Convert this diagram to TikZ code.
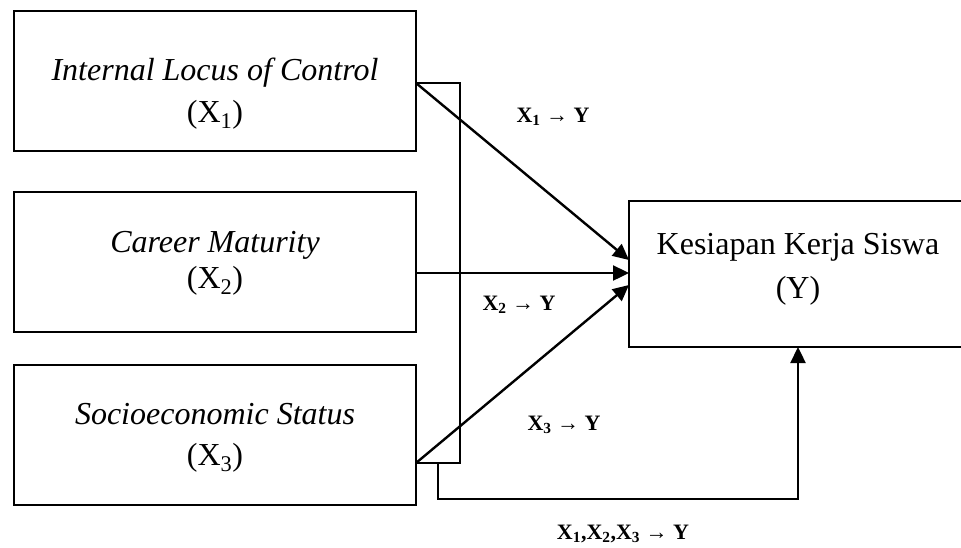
\documentclass[tikz,border=0pt]{standalone}
\usepackage{fontspec}
\setmainfont{Liberation Serif}
\usetikzlibrary{arrows.meta}
\begin{document}
\begin{tikzpicture}[x=1pt,y=-1pt,
  box/.style={draw, line width=2.4pt, inner sep=0pt, outer sep=0pt},
  txt/.style={anchor=base, inner sep=0pt, font=\fontsize{32}{38}\selectfont},
  lbl/.style={anchor=base, inner sep=0pt, font=\fontsize{22}{26}\selectfont\bfseries},
  conn/.style={line width=2.4pt},
  arr/.style={line width=2.4pt, -{Triangle[length=16pt,width=15pt]}}]
\useasboundingbox (0,0) rectangle (961,547);
\clip (0,0) rectangle (961,547);
% boxes
\node[box, minimum width=402pt, minimum height=140pt] (x1) at (215,81) {};
\node[box, minimum width=402pt, minimum height=140pt] (x2) at (215,262) {};
\node[box, minimum width=402pt, minimum height=140pt] (x3) at (215,435) {};
\node[box, minimum width=338pt, minimum height=146pt] (y) at (798,274) {};
% box texts
\node[txt] (x1a) at (215,80) {\itshape Internal Locus of Control};
\node[txt] (x1b) at (215,122) {(X\textsubscript{1})};
\node[txt] (x2a) at (215,252) {\itshape Career Maturity};
\node[txt] (x2b) at (215,288) {(X\textsubscript{2})};
\node[txt] (x3a) at (215,424) {\itshape Socioeconomic Status};
\node[txt] (x3b) at (215,465) {(X\textsubscript{3})};
\node[txt] (ya) at (798,254) {Kesiapan Kerja Siswa};
\node[txt] (yb) at (798,298) {(Y)};
% coordinates
\coordinate (p1) at (416,83);
\coordinate (bt) at (460,83);
\coordinate (bb) at (460,463);
\coordinate (p3) at (416,463);
\coordinate (p2) at (416,273);
\coordinate (d1) at (438,463);
\coordinate (d2) at (438,499);
\coordinate (d3) at (798,499);
\coordinate (t1) at (629,260);
\coordinate (t2) at (629,273);
\coordinate (t3) at (629,285);
% bracket
\draw[conn] (p1) -- (bt) -- (bb) -- (p3);
% arrows
\draw[arr] (p1) -- (t1);
\draw[arr] (p2) -- (t2);
\draw[arr] (p3) -- (t3);
\draw[arr] (d1) -- (d2) -- (d3) -- (y.south -| d3);
% labels
\node[lbl] (l1) at (553,122) {X\textsubscript{1} → Y};
\node[lbl] (l2) at (519,310) {X\textsubscript{2} → Y};
\node[lbl] (l3) at (564,430) {X\textsubscript{3} → Y};
\node[lbl] (l4) at (623,539) {X\textsubscript{1},X\textsubscript{2},X\textsubscript{3} → Y};
\end{tikzpicture}
\end{document}
